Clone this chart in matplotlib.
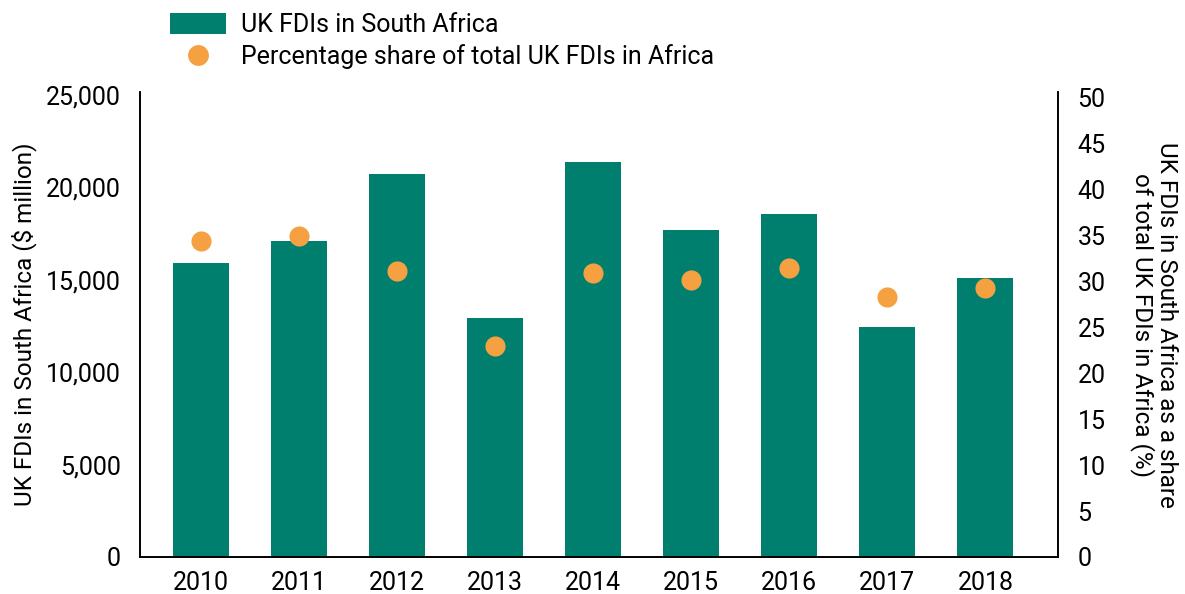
import numpy as np
import matplotlib
matplotlib.use("Agg")
from matplotlib import pyplot as plt
from matplotlib.patches import Patch
from matplotlib.lines import Line2D

plt.rcParams['font.family'] = ['Roboto', 'DejaVu Sans']

years = ['2010', '2011', '2012', '2013', '2014', '2015', '2016', '2017', '2018']
fdi_sa = [15900, 17100, 20700, 12900, 21350, 17700, 18550, 12450, 15100]
share_pct = [34.3, 34.9, 31.1, 22.9, 30.9, 30.1, 31.4, 28.3, 29.2]

teal = '#007F6E'
orange = '#F5A142'

fig = plt.figure(figsize=(11.85, 5.94), dpi=100)
ax = fig.add_axes([140 / 1185, 37 / 594, 918 / 1185, 465 / 594])
ax2 = ax.twinx()

x = np.arange(len(years))
ax.bar(x, fdi_sa, width=0.57, color=teal, zorder=2)
ax2.scatter(x, share_pct, s=210, color=orange, zorder=3, linewidths=0)

ax.set_xlim(-0.62, 8.74)
ax.set_ylim(0, 25150)
ax2.set_ylim(0, 50.55)
ax.set_yticks(np.arange(0, 25001, 5000))
ax.set_yticklabels([f'{v:,}' for v in range(0, 25001, 5000)])
ax2.set_yticks(np.arange(0, 51, 5))
ax.set_xticks(x)
ax.set_xticklabels(years)

for a in (ax, ax2):
    a.spines['top'].set_visible(False)
    for s in ('left', 'right', 'bottom'):
        a.spines[s].set_linewidth(1.2)
        a.spines[s].set_color('black')
    a.tick_params(axis='both', length=0, labelsize=18)
ax.tick_params(axis='y', pad=14)
ax2.tick_params(axis='y', pad=14)
ax.tick_params(axis='x', pad=10)

ax.set_ylabel('UK FDIs in South Africa ($ million)', fontsize=17.5, labelpad=6)
ax2.set_ylabel('UK FDIs in South Africa as a share\nof total UK FDIs in Africa (%)',
               fontsize=17.5, rotation=270, labelpad=52, linespacing=1.0)

handles = [Patch(facecolor=teal, edgecolor='none'),
           Line2D([], [], marker='o', color='none', markerfacecolor=orange,
                  markeredgecolor='none', markersize=15)]
fig.legend(handles, ['UK FDIs in South Africa', 'Percentage share of total UK FDIs in Africa'],
           loc='upper left', bbox_to_anchor=(170 / 1185, 1 - 13 / 594), frameon=False,
           fontsize=18, handlelength=2.25, handleheight=0.88, handletextpad=0.6,
           labelspacing=0.3, borderpad=0, borderaxespad=0)

fig.savefig('out.png', dpi=100)
